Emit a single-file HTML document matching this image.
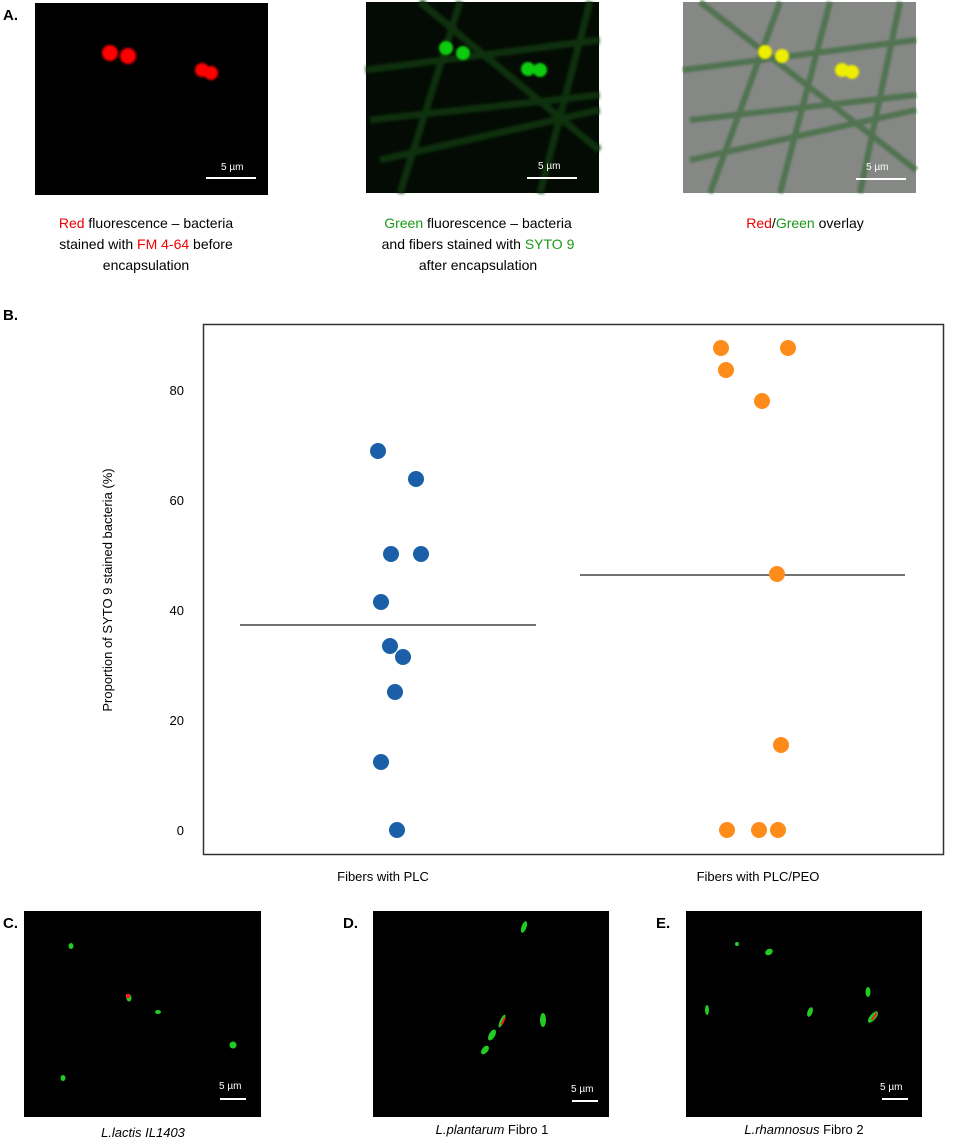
<!DOCTYPE html>
<html><head><style>
body{margin:0;background:#fff;width:955px;height:1141px;overflow:hidden}
svg text{font-family:"Liberation Sans",sans-serif}
</style></head><body>
<svg width="955" height="1141" xmlns="http://www.w3.org/2000/svg">
<defs>
<filter id="bl"><feGaussianBlur stdDeviation="1"/></filter>
<filter id="bl2"><feGaussianBlur stdDeviation="1.5"/></filter>
</defs>
<rect width="955" height="1141" fill="#fff"/>
<!-- Panel A -->
<text x="3" y="20" font-size="15" font-weight="bold">A.</text>
<rect x="35" y="3" width="233" height="192" fill="#000"/>
<g fill="#f00" filter="url(#bl)"><circle cx="110" cy="53" r="8"/><circle cx="128" cy="56" r="8"/><circle cx="202" cy="70" r="7"/><circle cx="211" cy="73" r="7"/></g>
<line x1="206" y1="178" x2="256" y2="178" stroke="#fff" stroke-width="2"/>
<text x="221" y="170" font-size="10" fill="#fff">5 µm</text>

<rect x="366" y="2" width="233" height="191" fill="#040a04"/>
<g stroke="#10300f" stroke-width="7" fill="none" filter="url(#bl2)">
<path d="M366 70 L599 40"/><path d="M400 193 L460 2"/><path d="M370 120 L599 95"/><path d="M540 193 L590 2"/><path d="M380 160 L599 110"/><path d="M420 2 L599 150"/>
</g>
<g fill="#1c1" filter="url(#bl)"><circle cx="446" cy="48" r="7"/><circle cx="463" cy="53" r="7"/><circle cx="528" cy="69" r="7"/><circle cx="540" cy="70" r="7"/></g>
<line x1="527" y1="178" x2="577" y2="178" stroke="#fff" stroke-width="2"/>
<text x="538" y="169" font-size="10" fill="#fff">5 µm</text>

<rect x="683" y="2" width="233" height="191" fill="#858885"/>
<g stroke="#4a714a" stroke-width="6" fill="none" opacity="0.85" filter="url(#bl)">
<path d="M683 70 L916 40"/><path d="M710 193 L780 2"/><path d="M690 120 L916 95"/><path d="M860 193 L900 2"/><path d="M690 160 L916 110"/><path d="M700 2 L916 170"/><path d="M780 193 L830 2"/>
</g>
<g fill="#ee0" filter="url(#bl)"><circle cx="765" cy="52" r="7"/><circle cx="782" cy="56" r="7"/><circle cx="842" cy="70" r="7"/><circle cx="852" cy="72" r="7"/></g>
<line x1="856" y1="179" x2="906" y2="179" stroke="#fff" stroke-width="2"/>
<text x="866" y="170" font-size="10" fill="#fff">5 µm</text>

<g font-size="14" text-anchor="middle">
<text x="146" y="228"><tspan fill="#e00">Red</tspan> fluorescence – bacteria</text>
<text x="146" y="249">stained with     <tspan fill="#e00">FM 4-64</tspan> before</text>
<text x="146" y="270">encapsulation</text>
<text x="478" y="228"><tspan fill="#1a9a1a">Green</tspan> fluorescence – bacteria</text>
<text x="478" y="249">and fibers stained with <tspan fill="#1a9a1a">SYTO 9</tspan></text>
<text x="478" y="270">after encapsulation</text>
<text x="805" y="228"><tspan fill="#e00">Red</tspan>/<tspan fill="#1a9a1a">Green</tspan> overlay</text>
</g>

<!-- Panel B -->
<text x="3" y="320" font-size="15" font-weight="bold">B.</text>
<rect x="203.5" y="324.5" width="740" height="530" fill="none" stroke="#333" stroke-width="1.5"/>
<g font-size="13" text-anchor="end">
<text x="184" y="835">0</text><text x="184" y="725">20</text><text x="184" y="615">40</text><text x="184" y="505">60</text><text x="184" y="395">80</text>
</g>
<text transform="translate(112,590) rotate(-90)" font-size="13" text-anchor="middle">Proportion of SYTO 9 stained bacteria  (%)</text>
<line x1="240" y1="625" x2="536" y2="625" stroke="#444" stroke-width="1.5"/>
<line x1="580" y1="575" x2="905" y2="575" stroke="#444" stroke-width="1.5"/>
<g fill="#1a5fa8">
<circle cx="378" cy="451" r="8"/><circle cx="416" cy="479" r="8"/><circle cx="391" cy="554" r="8"/><circle cx="421" cy="554" r="8"/><circle cx="381" cy="602" r="8"/><circle cx="390" cy="646" r="8"/><circle cx="403" cy="657" r="8"/><circle cx="395" cy="692" r="8"/><circle cx="381" cy="762" r="8"/><circle cx="397" cy="830" r="8"/>
</g>
<g fill="#ff8c1a">
<circle cx="721" cy="348" r="8"/><circle cx="788" cy="348" r="8"/><circle cx="726" cy="370" r="8"/><circle cx="762" cy="401" r="8"/><circle cx="777" cy="574" r="8"/><circle cx="781" cy="745" r="8"/><circle cx="727" cy="830" r="8"/><circle cx="759" cy="830" r="8"/><circle cx="778" cy="830" r="8"/>
</g>
<g font-size="13" text-anchor="middle">
<text x="383" y="881">Fibers with PLC</text><text x="758" y="881">Fibers with PLC/PEO</text>
</g>

<!-- Panels C D E -->
<g font-size="15" font-weight="bold"><text x="3" y="928">C.</text><text x="343" y="928">D.</text><text x="656" y="928">E.</text></g>
<rect x="24" y="911" width="237" height="206" fill="#000"/>
<rect x="373" y="911" width="236" height="206" fill="#000"/>
<rect x="686" y="911" width="236" height="206" fill="#000"/>
<g fill="#2c2">
<ellipse cx="71" cy="946" rx="2.5" ry="3"/><ellipse cx="129" cy="998" rx="2.5" ry="3.5"/><ellipse cx="158" cy="1012" rx="3" ry="2"/><ellipse cx="233" cy="1045" rx="3.5" ry="3.5"/><ellipse cx="63" cy="1078" rx="2.5" ry="3"/>
<ellipse cx="524" cy="927" rx="2.5" ry="6" transform="rotate(20 524 927)"/><ellipse cx="543" cy="1020" rx="3" ry="7"/><ellipse cx="492" cy="1035" rx="3" ry="6" transform="rotate(30 492 1035)"/><ellipse cx="485" cy="1050" rx="3" ry="5" transform="rotate(40 485 1050)"/><ellipse cx="502" cy="1021" rx="2" ry="7" transform="rotate(25 502 1021)"/>
<ellipse cx="737" cy="944" rx="2" ry="2"/><ellipse cx="769" cy="952" rx="4" ry="3" transform="rotate(-30 769 952)"/><ellipse cx="868" cy="992" rx="2.5" ry="5"/><ellipse cx="810" cy="1012" rx="2.5" ry="5" transform="rotate(20 810 1012)"/><ellipse cx="873" cy="1017" rx="3" ry="7" transform="rotate(40 873 1017)"/><ellipse cx="707" cy="1010" rx="2" ry="5"/>
</g>
<g fill="#e22"><rect x="126" y="994" width="4" height="4"/><rect x="504" y="1017" width="2" height="8" transform="rotate(25 504 1017)"/><rect x="876" y="1012" width="2" height="9" transform="rotate(35 876 1012)"/></g>
<g stroke="#fff" stroke-width="2">
<line x1="220" y1="1099" x2="246" y2="1099"/><line x1="572" y1="1101" x2="598" y2="1101"/><line x1="882" y1="1099" x2="908" y2="1099"/>
</g>
<g font-size="10" fill="#fff"><text x="219" y="1089">5 µm</text><text x="571" y="1092">5 µm</text><text x="880" y="1090">5 µm</text></g>
<g font-size="13" text-anchor="middle">
<text x="143" y="1137" font-style="italic">L.lactis IL1403</text>
<text x="492" y="1134"><tspan font-style="italic">L.plantarum</tspan> Fibro 1</text>
<text x="804" y="1134"><tspan font-style="italic">L.rhamnosus</tspan> Fibro 2</text>
</g>
</svg>
</body></html>
